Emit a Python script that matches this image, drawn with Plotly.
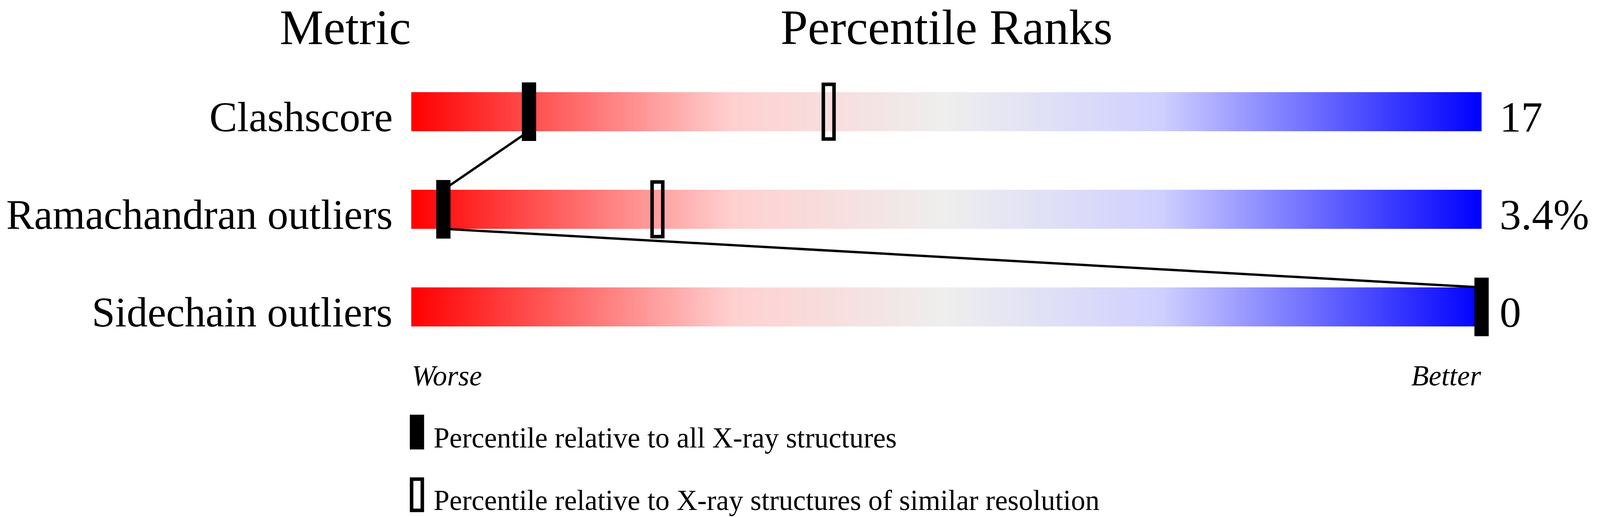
import numpy as np
import plotly.graph_objects as go

# chart values
metrics = ["Clashscore", "Ramachandran outliers", "Sidechain outliers"]
values = ["17", "3.4%", "0"]
pct_all = [11, 3, 100]          # percentile relative to all X-ray structures
pct_similar = [39, 23, None]    # percentile relative to similar resolution
legend_labels = [
    "Percentile relative to all X-ray structures",
    "Percentile relative to X-ray structures of similar resolution",
]

# the browser viewport is 4096 px wide, the design below is measured on a 4485 px canvas
REF_W = 4485
W, H = 4096, 1324
SX = W / REF_W
FS = SX            # font scale so the labels keep their horizontal extent

PX_X = 30          # reference pixels per percentile unit
PX_Y = 250         # pixels per row
BAR_LEFT = 1153    # reference pixel of percentile 0
ROW0 = 286         # pixel of first row centre
FONT = "Liberation Serif, Times New Roman, serif"

bar_half = 0.2
mark_half = 0.3

gradient = [
    [0.0, "#ff0000"],
    [0.3, "#ffd0d0"],
    [0.5, "#eeeeee"],
    [0.7, "#d0d0ff"],
    [1.0, "#0000ff"],
]

x_lo, x_hi = -2, 103
y_top = -ROW0 / PX_Y
y_bot = y_top + H / PX_Y


def xu(px):
    # reference pixel -> percentile units
    return (px - BAR_LEFT) / PX_X


def yu(px):
    # pixel -> row units
    return (px - ROW0) / PX_Y


def ycenter(baseline, size):
    # annotation centre for a given text baseline (row units)
    return baseline - 0.3375 * size / PX_Y


fig = go.Figure()

# gradient bars
n = 1000
edges = np.linspace(0, 100, n + 1)
ramp = (edges[:-1] + edges[1:]) / 2
ys, zs = [], []
for i in range(len(metrics)):
    ys += [i - bar_half, i + bar_half]
    zs.append(ramp)
    if i < len(metrics) - 1:
        zs.append(np.full(n, np.nan))
fig.add_trace(
    go.Heatmap(
        x=edges,
        y=ys,
        z=zs,
        colorscale=gradient,
        zmin=0,
        zmax=100,
        showscale=False,
        hoverinfo="skip",
    )
)

# connecting line between the "all structures" markers
lx, ly = [], []
for i, p in enumerate(pct_all):
    if i > 0:
        lx.append(p)
        ly.append(i - bar_half)
    if i < len(pct_all) - 1:
        lx.append(p)
        ly.append(i + bar_half)
fig.add_trace(
    go.Scatter(
        x=lx, y=ly, mode="lines", line=dict(color="black", width=6),
        hoverinfo="skip", showlegend=False,
    )
)

# filled markers
fig.add_trace(
    go.Bar(
        x=pct_all,
        y=[2 * mark_half] * len(pct_all),
        base=[i - mark_half for i in range(len(pct_all))],
        width=40 / PX_X,
        marker=dict(color="black", line=dict(width=0)),
        hoverinfo="skip",
        showlegend=False,
    )
)

# open markers
sx = [p for p in pct_similar if p is not None]
sb = [i - mark_half + 5 / PX_Y for i, p in enumerate(pct_similar) if p is not None]
fig.add_trace(
    go.Bar(
        x=sx,
        y=[2 * mark_half - 10 / PX_Y] * len(sx),
        base=sb,
        width=30 / PX_X,
        marker=dict(color="rgba(0,0,0,0)", line=dict(width=9, color="black")),
        hoverinfo="skip",
        showlegend=False,
    )
)

ann = []
# headers
hs = round(138 * FS)
head_y = 0.5 * hs * (0.891 + 0.216) / PX_Y + yu(1)
ann.append(dict(x=0, y=head_y, text="Metric", xanchor="right", size=hs))
ann.append(dict(x=50, y=head_y, text="Percentile Ranks", xanchor="center", size=hs))
ann.append(dict(x=xu(4319), y=head_y, text="Value", xanchor="center", size=hs))

# row labels and values
ls = 107
vs = round(120 * FS)
for i, (m, v) in enumerate(zip(metrics, values)):
    ann.append(dict(x=xu(1102), y=ycenter(i + bar_half, ls), text=m,
                    xanchor="right", size=ls))
    ann.append(dict(x=xu(4202), y=ycenter(i + bar_half + 1 / PX_Y, vs), text=v,
                    xanchor="left", size=vs))

# worse / better
ss = round(80 * FS)
ann.append(dict(x=0, y=ycenter(yu(987), ss), text="<i>Worse</i>",
                xanchor="left", size=ss))
ann.append(dict(x=100, y=ycenter(yu(987), ss), text="<i>Better</i>",
                xanchor="right", size=ss))

# legend
leg_base = [yu(1146), yu(1306)]
for k, lab in enumerate(legend_labels):
    ann.append(dict(x=xu(1214), y=ycenter(leg_base[k], ss), text=lab,
                    xanchor="left", size=ss))

shapes = [
    dict(type="rect", xref="x", yref="y", x0=xu(1149), x1=xu(1189),
         y0=yu(1062), y1=yu(1151), fillcolor="black", line=dict(width=0)),
    dict(type="rect", xref="x", yref="y", x0=xu(1154), x1=xu(1184),
         y0=yu(1227), y1=yu(1307), fillcolor="rgba(0,0,0,0)",
         line=dict(width=9, color="black")),
]

for a in ann:
    size = a.pop("size")
    a.update(xref="x", yref="y", yanchor="middle", showarrow=False,
             borderpad=0, font=dict(family=FONT, size=size, color="black"))

fig.update_layout(
    width=W,
    height=H,
    margin=dict(
        l=(BAR_LEFT + x_lo * PX_X) * SX,
        r=W - (BAR_LEFT + x_hi * PX_X) * SX,
        t=0, b=0, pad=0,
    ),
    paper_bgcolor="white",
    plot_bgcolor="white",
    barmode="overlay",
    showlegend=False,
    annotations=ann,
    shapes=shapes,
    xaxis=dict(range=[x_lo, x_hi], visible=False, fixedrange=True),
    yaxis=dict(range=[y_bot, y_top], visible=False, fixedrange=True),
)

fig.write_html(
    "out.html",
    config={"displayModeBar": False},
    post_script="document.body.style.margin = '0';",
)
